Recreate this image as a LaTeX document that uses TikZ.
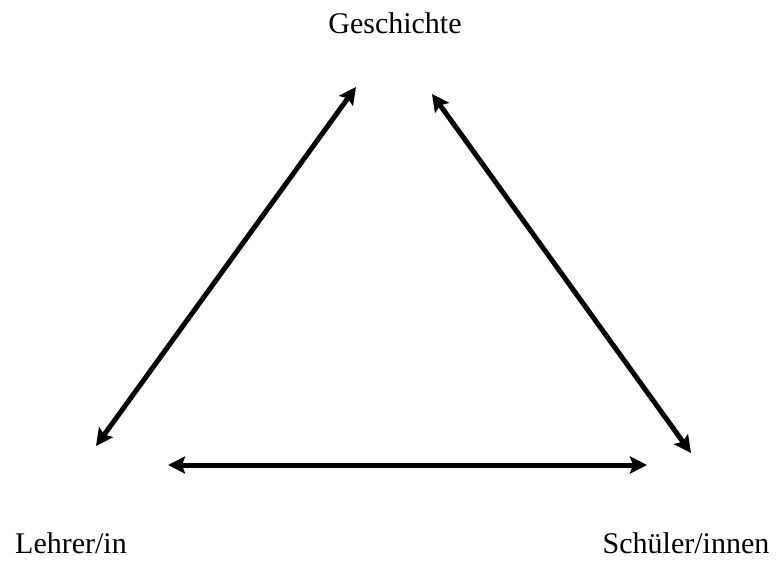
\documentclass[tikz,border=0pt]{standalone}
\usepackage{fontspec}
\setmainfont{Liberation Serif}
\usetikzlibrary{arrows.meta}
\tikzset{
  lbl/.style={font=\fontsize{30}{34}\selectfont, inner sep=0pt},
  dbl/.style={line width=5pt, {Stealth[length=17pt,width=17pt,inset=3pt]}-{Stealth[length=17pt,width=17pt,inset=3pt]}}
}
\begin{document}
\begin{tikzpicture}[x=1pt,y=1pt]
\useasboundingbox (0,0) rectangle (776,563);
\node[lbl] (g) at (395,540) {Geschichte};
\node[lbl] (l) at (71,20) {Lehrer/in};
\node[lbl] (s) at (686,20) {Schüler/innen};
\coordinate (a1) at (96,117);
\coordinate (a2) at (356,476);
\coordinate (b1) at (432,469);
\coordinate (b2) at (691,110);
\coordinate (c1) at (168,98);
\coordinate (c2) at (647,98);
\draw[dbl] (a1) -- (a2);
\draw[dbl] (b1) -- (b2);
\draw[dbl] (c1) -- (c2);
\end{tikzpicture}
\end{document}
